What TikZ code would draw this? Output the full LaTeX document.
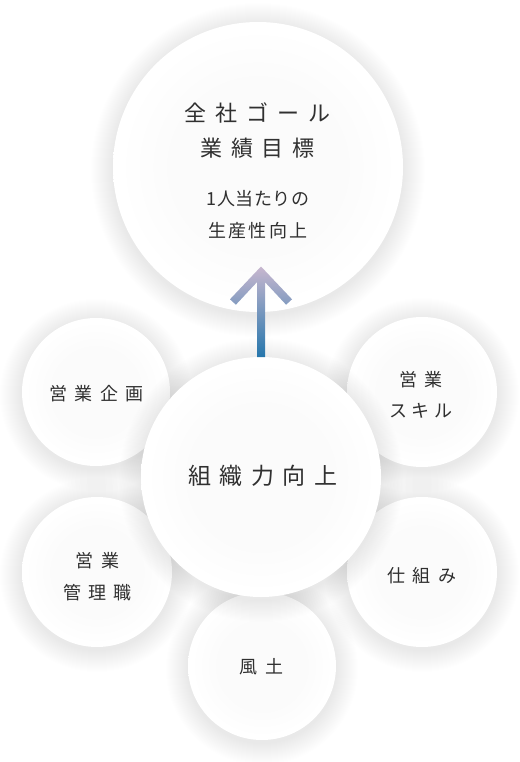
\documentclass[tikz,border=0pt]{standalone}
\usepackage{fontspec}
\setmainfont{Noto Sans CJK JP}
\definecolor{txt}{HTML}{303030}
\definecolor{arrowtop}{HTML}{C8B7CF}
\definecolor{arrowmid}{HTML}{8FA2C4}
\definecolor{arrowbot}{HTML}{2576AC}
\pgfdeclareradialshading{disc}{\pgfpoint{0bp}{0bp}}{color(0bp)=(black!1.5); color(15bp)=(black!1.5); color(24bp)=(white); color(50bp)=(white)}
\makeatletter
\newcommand\spaced[2]{\def\sp@k{#1}\sp@first#2\relax}
\def\sp@first#1{#1\sp@loop}
\def\sp@loop#1{\ifx\relax#1\else\kern\sp@k#1\expandafter\sp@loop\fi}
\makeatother
\newcommand\glowat[3]{%
  \foreach \i in {1,...,22}{\fill[black,opacity=0.0038] (#1,#2+3) circle[radius=#3pt+\i pt];}}
\begin{document}
\begin{tikzpicture}[x=1pt,y=-1pt,
  circ/.style={circle, inner sep=0pt, shading=disc, minimum size=#1},
  lbl/.style={text=txt, align=center, inner sep=0pt}]
\useasboundingbox (0,0) rectangle (519,762);
\fill[white] (0,0) rectangle (519,762);
% top goal circle
\glowat{258}{167}{145}
\node[circ=290pt] (goal) at (258,167) {};
\node[lbl, font=\fontsize{22}{35}\selectfont] (goaltitle) at (257.5,130.5)
  {\spaced{9pt}{全社ゴール}\\\spaced{9pt}{業績目標}};
\node[lbl, font=\fontsize{18}{32}\selectfont] (goalsub) at (258,215)
  {\spaced{0.5pt}{1人当たりの}\\\spaced{2.5pt}{生産性向上}};
% small circles
\glowat{96}{392}{74}
\node[circ=148pt] (plan) at (96,392) {};
\node[lbl, font=\fontsize{18}{30}\selectfont] (plantxt) at (96.5,394) {\spaced{7.5pt}{営業企画}};
\glowat{422}{392}{75}
\node[circ=150pt] (skill) at (422,392) {};
\node[lbl, font=\fontsize{18}{31}\selectfont] (skilltxt) at (421,395) {\spaced{7.5pt}{営業}\\\spaced{5pt}{スキル}};
\glowat{97}{572}{75}
\node[circ=150pt] (mgr) at (97,572) {};
\node[lbl, font=\fontsize{18}{32}\selectfont] (mgrtxt) at (97.5,577) {\spaced{7.5pt}{営業}\\\spaced{7.5pt}{管理職}};
\glowat{422}{572}{75}
\node[circ=150pt] (sys) at (422,572) {};
\node[lbl, font=\fontsize{18}{30}\selectfont] (systxt) at (422,576) {\spaced{7.5pt}{仕組み}};
\glowat{262}{666}{74}
\node[circ=148pt] (culture) at (262,666) {};
\node[lbl, font=\fontsize{18}{30}\selectfont] (culturetxt) at (261.5,667) {\spaced{7.5pt}{風土}};
% center circle
\glowat{261}{477}{120}
\node[circ=240pt] (org) at (261,477) {};
\node[lbl, font=\fontsize{23}{30}\selectfont] (orgtxt) at (263,476) {\spaced{8.5pt}{組織力向上}};
% arrow from org to goal
\shade[top color=arrowtop, middle color=arrowmid, bottom color=arrowbot]
  (261,266.5) -- (292,299.3) -- (286.1,304.7) -- (265,282.1) -- (265,357)
  -- (257,357) -- (257,282.1) -- (235.9,304.7) -- (230,299.3) -- cycle;
\end{tikzpicture}
\end{document}
